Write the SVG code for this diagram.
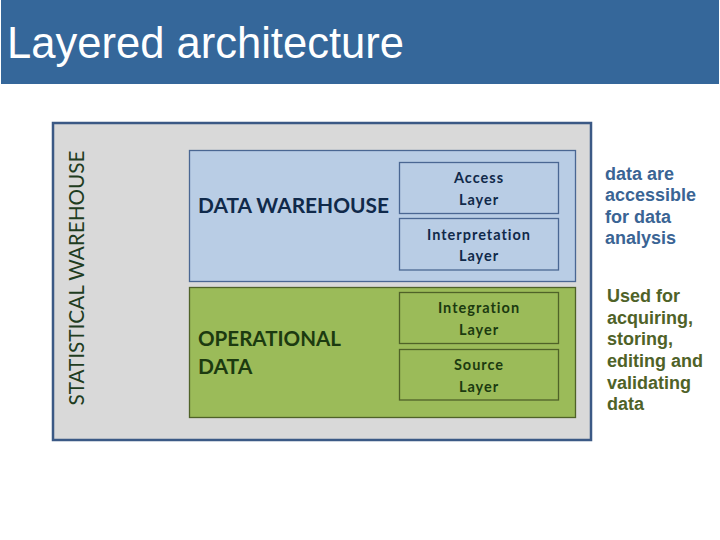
<svg xmlns="http://www.w3.org/2000/svg" width="720" height="540" viewBox="0 0 720 540">
<style>
.title{font-family:"Liberation Sans",Arial,sans-serif;font-size:45px;fill:#ffffff}
.big{font-family:Lato,"Noto Sans",sans-serif;font-weight:bold;font-size:21px}
.lay{font-family:Lato,"Noto Sans",sans-serif;font-weight:bold;font-size:14.5px;letter-spacing:1px;text-anchor:middle}
.note{font-family:"Liberation Sans",Arial,sans-serif;font-weight:bold;font-size:18px}
.blue{fill:#b9cde5;stroke:#4a6793;stroke-width:1.3}
.green{fill:#9bbb59;stroke:#4f6228;stroke-width:1.3}
.bt{fill:#10294a}
.gt{fill:#1c3a10}
</style>
<rect x="1" y="0" width="718" height="84" fill="#35679a"/>
<text class="title" x="7" y="58" textLength="397" lengthAdjust="spacingAndGlyphs">Layered architecture</text>
<g id="statistical-warehouse">
<rect x="53" y="123" width="538" height="317" fill="#d9d9d9" stroke="#3b5985" stroke-width="2.5"/>
<text transform="translate(84,278) rotate(-90)" font-family="Lato,'Noto Sans',sans-serif" font-size="21" fill="#1f3d1f" text-anchor="middle" textLength="255" lengthAdjust="spacingAndGlyphs">STATISTICAL WAREHOUSE</text>
</g>
<g id="data-warehouse">
<rect class="blue" x="189.5" y="150.5" width="386" height="131"/>
<text class="big bt" x="198" y="213" textLength="191" lengthAdjust="spacingAndGlyphs">DATA WAREHOUSE</text>
</g>
<g id="operational-data">
<rect class="green" x="189.5" y="287.5" width="386" height="130"/>
<text class="big gt" x="198" y="346" textLength="143" lengthAdjust="spacingAndGlyphs">OPERATIONAL</text>
<text class="big gt" x="198" y="374">DATA</text>
</g>
<g id="access-layer">
<rect class="blue" x="399.5" y="162.5" width="159" height="51"/>
<text class="lay bt" x="479" y="183">Access</text>
<text class="lay bt" x="479" y="205">Layer</text>
</g>
<g id="interpretation-layer">
<rect class="blue" x="399.5" y="218.5" width="159" height="51.5"/>
<text class="lay bt" x="479" y="240">Interpretation</text>
<text class="lay bt" x="479" y="261">Layer</text>
</g>
<g id="integration-layer">
<rect class="green" x="399.5" y="292.5" width="159" height="51"/>
<text class="lay gt" x="479" y="313">Integration</text>
<text class="lay gt" x="479" y="335">Layer</text>
</g>
<g id="source-layer">
<rect class="green" x="399.5" y="349.5" width="159" height="50.5"/>
<text class="lay gt" x="479" y="370">Source</text>
<text class="lay gt" x="479" y="392">Layer</text>
</g>
<g id="connectors"></g>
<g id="notes">
<text class="note" fill="#3a6494" x="605" y="180">data are</text>
<text class="note" fill="#3a6494" x="605" y="201">accessible</text>
<text class="note" fill="#3a6494" x="605" y="223">for data</text>
<text class="note" fill="#3a6494" x="605" y="244">analysis</text>
<text class="note" fill="#4f6228" x="607" y="302">Used for</text>
<text class="note" fill="#4f6228" x="607" y="324">acquiring,</text>
<text class="note" fill="#4f6228" x="607" y="345">storing,</text>
<text class="note" fill="#4f6228" x="607" y="367">editing and</text>
<text class="note" fill="#4f6228" x="607" y="389">validating</text>
<text class="note" fill="#4f6228" x="607" y="410">data</text>
</g>
</svg>
